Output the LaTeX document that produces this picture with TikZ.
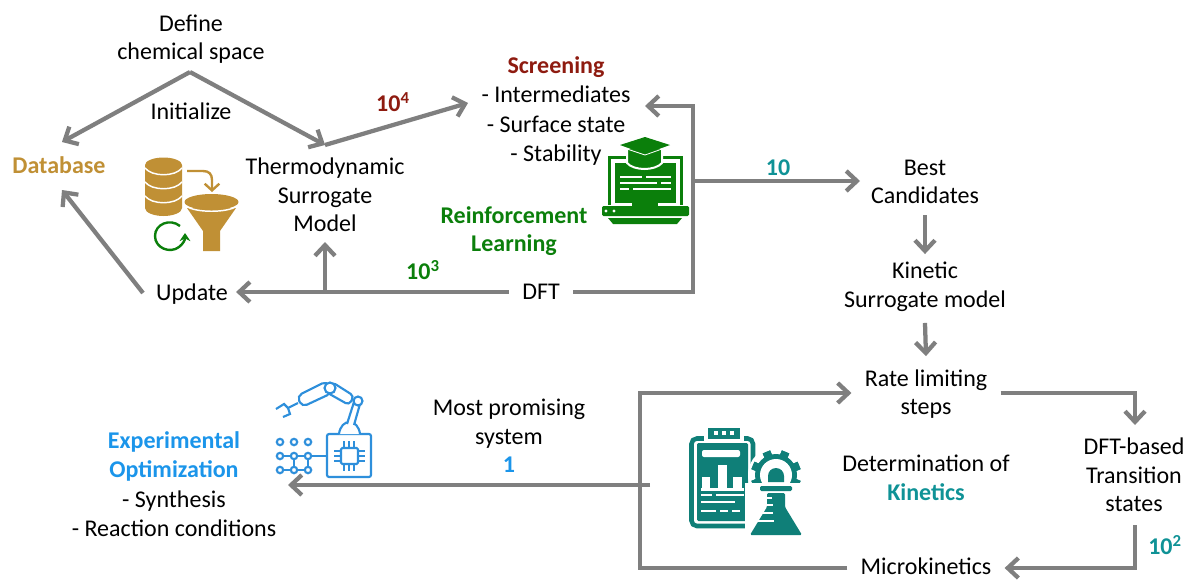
\documentclass[tikz,border=0pt]{standalone}
\usepackage{fontspec}
\setmainfont{Carlito}
\usetikzlibrary{arrows.meta}
\definecolor{flowgray}{HTML}{7F7F7F}
\definecolor{dbgold}{HTML}{C09035}
\definecolor{screenred}{HTML}{8E1B10}
\definecolor{rlgreen}{HTML}{0B7F0B}
\definecolor{kinteal}{HTML}{0F7F78}
\definecolor{tenteal}{HTML}{0F9296}
\definecolor{expblue}{HTML}{1B95EA}
\definecolor{robotblue}{HTML}{2E8FDB}
\tikzset{
    flowline/.style={draw=flowgray, line width=3.2pt, line join=miter, -{Straight Barb[length=8pt, width=15pt, line width=3.2pt]}},
    label/.style={align=center, inner sep=6pt, font=\fontsize{18}{21.5}\selectfont, text=black},
    boldlabel/.style={label, font=\fontsize{18}{21.5}\selectfont\bfseries},
    listlabel/.style={label, font=\fontsize{18}{22}\selectfont},
    whiteline/.style={draw=white, line width=1.1pt},
    robotline/.style={draw=robotblue, line width=1.6pt, fill=white}
}
\begin{document}
\begin{tikzpicture}[x=0.75pt, y=-0.75pt]
    \useasboundingbox (0, 0) rectangle (1186, 579);

    \node[label] (define) at (191, 39) {Define\\chemical space};
    \node[label] (initialize) at (191, 111) {Initialize};
    \node[boldlabel, text=dbgold] (database) at (59, 165) {Database};
    \node[label] (thermo) at (325, 195) {Thermodynamic\\Surrogate\\Model};
    \node[boldlabel, text=screenred] (tenfour) at (393, 102) {10\textsuperscript{4}};
    \node[listlabel] (screening) at (556, 111) {\textcolor{screenred}{\textbf{Screening}}\\- Intermediates\\- Surface state\\- Stability};
    \node[boldlabel, text=rlgreen] (reinforce) at (514, 231) {Reinforcement\\Learning};
    \node[boldlabel, text=rlgreen] (tenthree) at (423, 270) {10\textsuperscript{3}};
    \node[label, outer sep=4pt] (dft) at (541, 292) {DFT};
    \node[label] (update) at (192, 294) {Update};
    \node[boldlabel, text=tenteal] (ten) at (778, 168) {10};
    \node[label] (best) at (925, 182) {Best\\Candidates};
    \node[label] (kinetic) at (925, 287) {Kinetic\\Surrogate model};
    \node[label, outer sep=4pt] (rate) at (926, 394) {Rate limiting\\steps};
    \node[label] (tstates) at (1134, 475) {DFT-based\\Transition\\states};
    \node[boldlabel, text=tenteal] (tentwo) at (1165, 545) {10\textsuperscript{2}};
    \node[label, outer sep=4pt] (micro) at (926, 566) {Microkinetics};
    \node[label] (determine) at (926, 478) {Determination of\\\textcolor{tenteal}{\textbf{Kinetics}}};
    \node[label] (promising) at (509, 436) {Most promising\\system\\\textcolor{expblue}{\textbf{1}}};
    \node[listlabel] (experiment) at (174, 484) {\textcolor{expblue}{\textbf{Experimental}}\\\textcolor{expblue}{\textbf{Optimization}}\\- Synthesis\\- Reaction conditions};

    \coordinate (apex) at (190, 72);
    \coordinate (dbtop) at (62, 142);
    \coordinate (thermotop) at (325, 145);
    \coordinate (screenin) at (468, 103);
    \coordinate (dbbottom) at (62, 190);
    \coordinate (updateout) at (143, 293);
    \coordinate (dftout) at (693, 292);
    \coordinate (screenback) at (645, 106);
    \coordinate (corner) at (693, 106);
    \coordinate (branch) at (693, 181);
    \coordinate (upfork) at (325, 292);
    \coordinate (thermobottom) at (325, 242);
    \coordinate (rateright) at (1135, 393);
    \coordinate (tsdown) at (1135, 425);
    \coordinate (tsbottom) at (1135, 568);
    \coordinate (tsstart) at (1135, 525);
    \coordinate (loopbottom) at (640, 568);
    \coordinate (looptop) at (640, 393);
    \coordinate (loopmid) at (650, 485);
    \coordinate (expin) at (288, 485);
    \coordinate (tenin) at (860, 181);

    \draw[flowline] (apex) -- (dbtop);
    \draw[flowline] (apex) -- (thermotop);
    \draw[flowline] (thermotop) -- (screenin);
    \draw[flowline] (updateout) -- (dbbottom);
    \draw[flowline] (dft.west) -- (update.east |- dft.west);
    \draw[flowline] (upfork) -- (thermobottom);
    \draw[flowline] (dft.east) -- (dftout) -- (corner) -- (screenback);
    \draw[flowline] (branch) -- (tenin);
    \draw[flowline] (best.south) ++(0, 3) -- (kinetic.north);
    \draw[flowline] (kinetic.south) ++(0, 3) -- (rate.north);
    \draw[flowline] (rate.east |- rateright) -- (rateright) -- (tsdown);
    \draw[flowline] (tsstart) -- (tsbottom) -- (micro.east |- tsbottom);
    \draw[flowline] (micro.west |- loopbottom) -- (loopbottom) -- (looptop) -- (rate.west |- looptop);
    \draw[flowline] (loopmid) -- (expin);

    % database and funnel
    \fill[dbgold] (145, 165) -- (182, 165) -- (182, 208) arc (0:180:18.5 and 8) -- cycle;
    \fill[dbgold] (163.5, 165) ellipse (18.5 and 7.5);
    \draw[whiteline] (145, 168) .. controls (152, 177) and (175, 177) .. (182, 168);
    \draw[whiteline] (145, 182) .. controls (152, 191) and (175, 191) .. (182, 182);
    \draw[whiteline] (145, 196) .. controls (152, 205) and (175, 205) .. (182, 196);
    \fill[dbgold] (203, 251) -- (220, 251) -- (220, 231) -- (236, 208) -- (187, 208) -- (203, 231) -- cycle;
    \fill[dbgold] (211.5, 202) ellipse (27 and 8);
    \draw[whiteline] (186, 206) .. controls (195, 213) and (228, 213) .. (237, 206);
    \draw[dbgold, line width=1.8pt, -{Straight Barb[length=5pt, width=11pt, line width=1.8pt]}] (187, 171) -- (203, 171) .. controls (209, 171) and (212, 174) .. (212, 180) -- (212, 192);
    \draw[rlgreen, line width=1.8pt, -{Stealth[length=6pt, width=8pt]}] (180, 226) .. controls (170, 218) and (155, 224) .. (155, 236) .. controls (155, 248) and (170, 254) .. (179, 247) .. controls (183, 244) and (185, 240) .. (185, 233);

    % laptop with cap
    \draw[rlgreen, line width=2.2pt] (609.5, 205) -- (609.5, 157.5) -- (681.5, 157.5) -- (681.5, 205);
    \fill[rlgreen] (615, 163) rectangle (676, 203);
    \fill[rlgreen] (632, 202) rectangle (658, 207);
    \fill[rlgreen, rounded corners=1pt] (602, 206) rectangle (689, 216);
    \fill[rlgreen] (608, 218) -- (682, 218) -- (677, 224) -- (613, 224) -- cycle;
    \fill[rlgreen, draw=white, line width=1.5pt] (627, 148) -- (662, 148) -- (662, 163) .. controls (655, 171) and (634, 171) .. (627, 163) -- cycle;
    \fill[rlgreen] (620, 145) -- (645, 137) -- (670, 145) -- (645, 154) -- cycle;
    \draw[white, line width=0.6pt] (627, 149) -- (645, 155) -- (662, 149);
    \draw[whiteline] (620, 177) -- (642, 177) (646, 177) -- (671, 177);
    \draw[whiteline] (620, 183) -- (657, 183) (661, 183) -- (671, 183);
    \draw[whiteline] (620, 189) -- (629, 189) (633, 189) -- (671, 189);
    \fill[white] (606, 211) circle (1.6) (614, 211) circle (1.6);

    % robot arm and circuit
    \draw[robotline, rounded corners=1.5pt] (327, 434) rectangle (371, 477);
    \draw[robotline] (339, 434) .. controls (341, 418) and (358, 418) .. (360, 434);
    \draw[robotline] (347, 424) -- (354, 402) -- (360, 404) -- (354, 425);
    \draw[robotline, rounded corners=3pt] (354, 396) -- (332, 382) -- (326, 392) -- (349, 405) -- cycle;
    \draw[robotline, rounded corners=4pt] (327, 381) -- (297, 396) -- (302, 407) -- (332, 393) -- cycle;
    \draw[robotline] (330, 388) circle (5.5);
    \draw[robotline] (358, 401) circle (4.5);
    \draw[robotline, fill=none] (298, 403) -- (288, 408) (288, 408) -- (284, 404) -- (276, 409) (288, 408) -- (290, 414) -- (283, 417);
    \draw[robotline, rounded corners=1pt] (341, 448) rectangle (358, 464);
    \foreach \p in {344, 349, 354} {
        \draw[robotline] (\p, 441) -- (\p, 448) (\p, 464) -- (\p, 471);
    }
    \foreach \q in {451, 456, 461} {
        \draw[robotline] (334, \q) -- (341, \q) (358, \q) -- (365, \q);
    }
    \draw[robotline, fill=none] (280, 456) -- (327, 456) (294, 456) -- (294, 470) (308, 456) -- (308, 470) (280, 470) -- (308, 470);
    \foreach \dx in {280, 294, 308} {
        \foreach \dy in {442, 456, 470} {
            \draw[robotline] (\dx, \dy) circle (3.2);
        }
    }

    % clipboard and flask
    \draw[kinteal, line width=3.4pt, rounded corners=4pt] (691.5, 438.5) rectangle (753, 526);
    \fill[white] (704, 426) rectangle (744, 443);
    \fill[kinteal, rounded corners=1pt] (697, 443) rectangle (748, 521);
    \fill[kinteal] (708, 428) rectangle (740, 439);
    \foreach \t in {716, 724, 732} {
        \fill[white] (\t-2, 431) rectangle (\t+2, 435);
    }
    \fill[white, rounded corners=1.5pt] (702, 450) rectangle (740, 457);
    \fill[white] (702, 477) rectangle (710, 488);
    \fill[white] (718, 465) rectangle (727, 488);
    \fill[white] (733, 477) rectangle (742, 488);
    \fill[white] (701, 488) rectangle (744, 491);
    \draw[whiteline, line width=1.8pt] (701, 495) -- (712, 495) (716, 495) -- (744, 495);
    \draw[whiteline, line width=1.8pt] (701, 502) -- (735, 502);
    \draw[whiteline, line width=1.8pt] (701, 511) -- (716, 511) (720, 511) -- (728, 511) (732, 511) -- (740, 511);
    \fill[white] (776, 475) circle (28);
    \foreach \a in {0, 45, ..., 315} {
        \fill[kinteal, rotate around={22.5+\a:(776, 475)}] (772, 450) rectangle (780, 500);
    }
    \fill[kinteal] (776, 475) circle (21);
    \fill[white] (776, 475) circle (16);
    \fill[kinteal] (768, 482) -- (768, 476) arc (180:360:8) -- (784, 482) -- cycle;
    \fill[white] (745, 483) rectangle (806, 540);
    \fill[kinteal, rounded corners=1pt] (760, 486) rectangle (792, 491);
    \fill[kinteal, rounded corners=1pt] (767, 493) -- (785, 493) -- (785, 507) -- (802, 535) -- (750, 535) -- (767, 507) -- cycle;
    \draw[whiteline, line width=1.6pt] (764, 498) -- (772, 498) (764, 505) -- (773, 505) (760, 513) -- (773, 513) (756, 521) -- (774, 521);
\end{tikzpicture}
\end{document}
